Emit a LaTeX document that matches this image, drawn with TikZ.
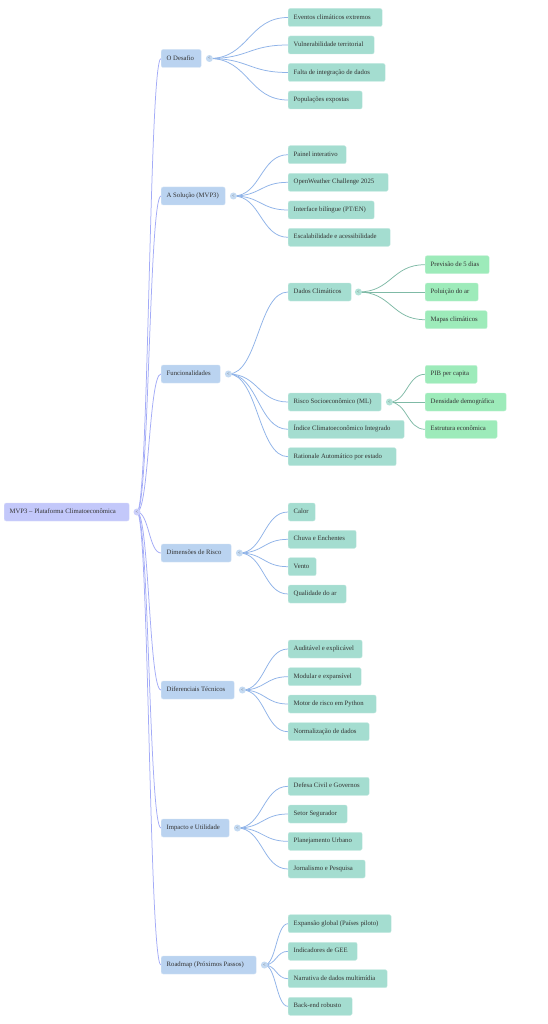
\documentclass[tikz,border=0pt]{standalone}
\usepackage{fontspec}
\setmainfont{Liberation Serif}
\usetikzlibrary{calc}
\pgfdeclarelayer{background}
\pgfsetlayers{background,main}
\definecolor{rootfill}{HTML}{C3C8FA}
\definecolor{lonefill}{HTML}{BAD3F0}
\definecolor{ltwofill}{HTML}{A4DDD0}
\definecolor{lthreefill}{HTML}{9DEBBA}
\definecolor{rootedge}{HTML}{A3ABF7}
\definecolor{loneedge}{HTML}{8FB3E8}
\definecolor{ltwoedge}{HTML}{7FBAA6}
\definecolor{txt}{HTML}{333333}
\tikzset{
  mmbox/.style={rectangle, rounded corners=2pt, minimum height=18pt, inner xsep=5.5pt,
    inner ysep=0pt, anchor=west,
    execute at begin node={\hbox to #1\bgroup},
    execute at end node={\hss\egroup},
    font=\fontsize{6.7}{8}\selectfont, text=txt, text height=4.6pt, text depth=1.4pt},
  rootbox/.style={mmbox=#1, fill=rootfill, draw=rootfill!60!white, line width=0.4pt},
  onebox/.style={mmbox=#1, fill=lonefill, draw=lonefill!60!white, line width=0.4pt},
  twobox/.style={mmbox=#1, fill=ltwofill, draw=ltwofill!60!white, line width=0.4pt},
  threebox/.style={mmbox=#1, fill=lthreefill, draw=lthreefill!60!white, line width=0.4pt},
  mmdot/.style={circle, minimum size=7pt, inner sep=0pt, fill=#1,
    font=\fontsize{4.5}{5}\selectfont, text=txt!80},
  rootlink/.style={draw=rootedge, line width=0.75pt},
  onelink/.style={draw=loneedge, line width=0.75pt},
  twolink/.style={draw=ltwoedge, line width=0.75pt},
}
\newcommand{\mmlink}[3]{\draw[#1] let \p1=(#2.center), \p2=(#3.west) in (\p1) .. controls ({0.5*\x1+0.5*\x2},\y1) and ({0.5*\x1+0.5*\x2},\y2) .. (\p2);}
\begin{document}
\begin{tikzpicture}[x=1pt,y=-1pt]
\useasboundingbox (0,0) rectangle (547,1024);
% root
\node[rootbox=114pt] (root) at (4,512) {MVP3 – Plataforma Climatoeconômica};
\node[mmdot=rootfill!85!white] (rc) at (137,512) {<};
% level 1
\node[onebox=29pt] (d1) at (161,58.5) {O Desafio};
\node[onebox=53pt] (d2) at (161,196) {A Solução (MVP3)};
\node[onebox=48pt] (d3) at (161,374) {Funcionalidades};
\node[onebox=59pt] (d4) at (161,553) {Dimensões de Risco};
\node[onebox=62pt] (d5) at (161,690) {Diferenciais Técnicos};
\node[onebox=57pt] (d6) at (161,828) {Impacto e Utilidade};
\node[onebox=84pt] (d7) at (161,965) {Roadmap (Próximos Passos)};
\foreach \k in {d1,d2,d3,d4,d5,d6,d7}{
  \node[mmdot=lonefill!85!white] (\k-c) at ($(\k.east)+(8,0)$) {<};
}
% level 2
\node[twobox=83pt] (a1) at (288,17.5) {Eventos climáticos extremos};
\node[twobox=75pt] (a2) at (288,45) {Vulnerabilidade territorial};
\node[twobox=86pt] (a3) at (288,72.5) {Falta de integração de dados};
\node[twobox=63pt] (a4) at (288,100) {Populações expostas};
\node[twobox=47pt] (b1) at (288,154.7) {Painel interativo};
\node[twobox=89pt] (b2) at (288,182.3) {OpenWeather Challenge 2025};
\node[twobox=75pt] (b3) at (288,210) {Interface bilíngue (PT/EN)};
\node[twobox=91pt] (b4) at (288,237.3) {Escalabilidade e acessibilidade};
\node[twobox=52pt] (c1) at (288,292) {Dados Climáticos};
\node[twobox=82pt] (c2) at (288,402) {Risco Socioeconômico (ML)};
\node[twobox=105pt] (c3) at (288,429.3) {Índice Climatoeconômico Integrado};
\node[twobox=97pt] (c4) at (288,456.7) {Rationale Automático por estado};
\node[twobox=16pt] (e1) at (288,512) {Calor};
\node[twobox=57pt] (e2) at (288,539.3) {Chuva e Enchentes};
\node[twobox=17pt] (e3) at (288,566.7) {Vento};
\node[twobox=47pt] (e4) at (288,594) {Qualidade do ar};
\node[twobox=63pt] (f1) at (288,649) {Auditável e explicável};
\node[twobox=62pt] (f2) at (288,676.7) {Modular e expansível};
\node[twobox=77pt] (f3) at (288,704) {Motor de risco em Python};
\node[twobox=70pt] (f4) at (288,731.7) {Normalização de dados};
\node[twobox=70pt] (g1) at (288,786.3) {Defesa Civil e Governos};
\node[twobox=48pt] (g2) at (288,814) {Setor Segurador};
\node[twobox=63pt] (g3) at (288,841.3) {Planejamento Urbano};
\node[twobox=66pt] (g4) at (288,869) {Jornalismo e Pesquisa};
\node[twobox=92pt] (h1) at (288,923.7) {Expansão global (Países piloto)};
\node[twobox=58pt] (h2) at (288,951.3) {Indicadores de GEE};
\node[twobox=88pt] (h3) at (288,978.7) {Narrativa de dados multimídia};
\node[twobox=53pt] (h4) at (288,1006.3) {Back-end robusto};
\node[mmdot=ltwofill!85!white] (c1-c) at ($(c1.east)+(7,0)$) {<};
\node[mmdot=ltwofill!85!white] (c2-c) at ($(c2.east)+(8,0)$) {<};
% level 3
\node[threebox=53pt] (p1) at (425,264.7) {Previsão de 5 dias};
\node[threebox=42pt] (p2) at (425,292) {Poluição do ar};
\node[threebox=51pt] (p3) at (425,319.7) {Mapas climáticos};
\node[threebox=41pt] (q1) at (425,374.3) {PIB per capita};
\node[threebox=70pt] (q2) at (425,402) {Densidade demográfica};
\node[threebox=61pt] (q3) at (425,429.3) {Estrutura econômica};
% links
\begin{pgfonlayer}{background}
\fill[white] (0,0) rectangle (547,1024);
\foreach \k in {d1,d2,d3,d4,d5,d6,d7}{\mmlink{rootlink}{rc}{\k}}
\foreach \k in {a1,a2,a3,a4}{\mmlink{onelink}{d1-c}{\k}}
\foreach \k in {b1,b2,b3,b4}{\mmlink{onelink}{d2-c}{\k}}
\foreach \k in {c1,c2,c3,c4}{\mmlink{onelink}{d3-c}{\k}}
\foreach \k in {e1,e2,e3,e4}{\mmlink{onelink}{d4-c}{\k}}
\foreach \k in {f1,f2,f3,f4}{\mmlink{onelink}{d5-c}{\k}}
\foreach \k in {g1,g2,g3,g4}{\mmlink{onelink}{d6-c}{\k}}
\foreach \k in {h1,h2,h3,h4}{\mmlink{onelink}{d7-c}{\k}}
\foreach \k in {p1,p2,p3}{\mmlink{twolink}{c1-c}{\k}}
\foreach \k in {q1,q2,q3}{\mmlink{twolink}{c2-c}{\k}}
\end{pgfonlayer}
\end{tikzpicture}
\end{document}
